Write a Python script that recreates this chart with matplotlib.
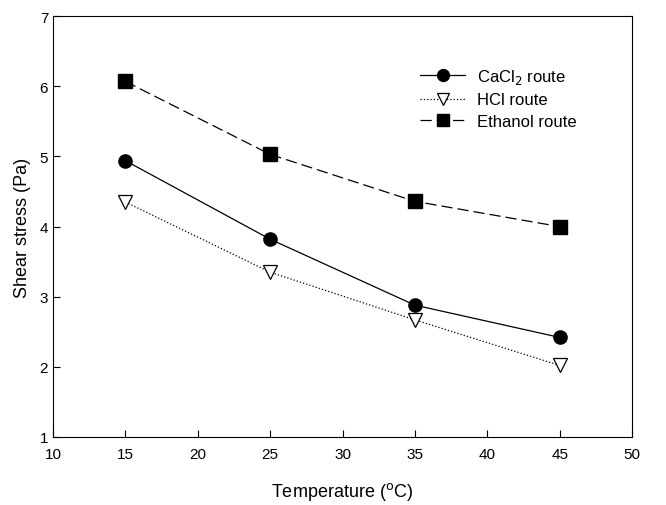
import matplotlib.pyplot as plt

temperature = [15, 25, 35, 45]
cacl2_route = [4.94, 3.82, 2.88, 2.42]
hcl_route = [4.35, 3.35, 2.67, 2.02]
ethanol_route = [6.07, 5.03, 4.36, 4.00]

plt.rcParams["font.family"] = ["Liberation Sans", "DejaVu Sans"]

fig = plt.figure(figsize=(6.66, 5.06), dpi=100)
ax = fig.add_axes([0.0796, 0.1344, 0.8694, 0.8316])

ax.plot(temperature, cacl2_route, color="black", linestyle="-", linewidth=0.9,
        marker="o", markersize=9.5, markerfacecolor="black", label="CaCl$_2$ route")
ax.plot(temperature, hcl_route, color="black", linestyle=":", linewidth=0.9,
        marker="v", markersize=10, markerfacecolor="white", markeredgewidth=0.9,
        label="HCl route")
ax.plot(temperature, ethanol_route, color="black", linestyle=(0, (9, 4)), linewidth=0.9,
        marker="s", markersize=9.5, markerfacecolor="black", label="Ethanol route")

ax.set_xlim(10, 50)
ax.set_ylim(1, 7)
ax.set_xticks(range(10, 51, 5))
ax.set_yticks(range(1, 8))
ax.tick_params(direction="in", length=5, labelsize=11, width=0.8)
ax.tick_params(axis="x", pad=7)
ax.set_xlabel("Temperature ($^{\\rm o}$C)", fontsize=13, labelpad=14)
ax.set_ylabel("Shear stress (Pa)", fontsize=13, labelpad=6)

ax.legend(loc="upper left", bbox_to_anchor=(0.634, 0.88), frameon=False, fontsize=12,
          handlelength=2.7, handletextpad=0.7, labelspacing=0.4,
          borderaxespad=0, borderpad=0, markerscale=0.9)

fig.savefig("out.png", dpi=100)
